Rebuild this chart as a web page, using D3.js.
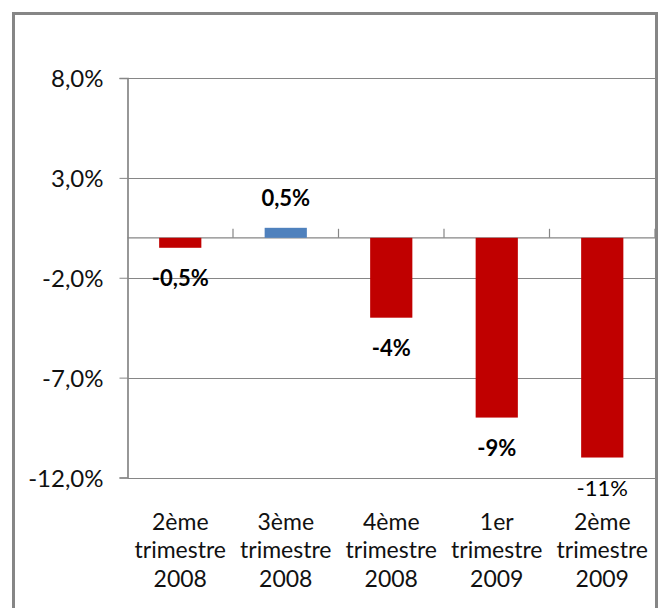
<!DOCTYPE html>
<html>
<head>
<meta charset="utf-8">
<script src="https://cdn.jsdelivr.net/npm/d3@7"></script>
<style>
  html, body { margin: 0; padding: 0; background: #fff; }
  svg { display: block; }
  text { font-family: Lato, "Open Sans", sans-serif; }
</style>
</head>
<body>
<svg id="chart" width="667" height="608"></svg>
<script>
const categories = [
  ["2ème", "trimestre", "2008"],
  ["3ème", "trimestre", "2008"],
  ["4ème", "trimestre", "2008"],
  ["1er", "trimestre", "2009"],
  ["2ème", "trimestre", "2009"]
];
const values = [-0.5, 0.5, -4, -9, -11];
const valueLabels = ["-0,5%", "0,5%", "-4%", "-9%", "-11%"];
const yTicks = [8, 3, -2, -7, -12];
const yTickLabels = ["8,0%", "3,0%", "-2,0%", "-7,0%", "-12,0%"];

(function () {
const svg = d3.select("#chart");
const pLeft = 127.5, pRight = 655, pTop = 78, pBottom = 477.5;
const grey = "#868686";

// outer border
svg.append("rect")
  .attr("x", 13.5).attr("y", 13.5)
  .attr("width", 643).attr("height", 640)
  .attr("fill", "none").attr("stroke", grey).attr("stroke-width", 3);

const keys = categories.map((c, i) => i);
const x = d3.scaleBand().domain(keys).range([pLeft, pRight]).paddingInner(0.6).paddingOuter(0.3);
const y = d3.scaleLinear().domain([-12, 8]).range([pBottom, pTop]);

// gridlines
svg.append("g").selectAll("line").data(yTicks).join("line")
  .attr("x1", pLeft).attr("x2", pRight)
  .attr("y1", d => Math.round(y(d)) + 0.5).attr("y2", d => Math.round(y(d)) + 0.5)
  .attr("stroke", grey).attr("stroke-width", 1);

// y axis
const yAxis = svg.append("g").attr("transform", `translate(${pLeft},0)`)
  .call(d3.axisLeft(y).tickValues(yTicks).tickSize(8).tickPadding(16)
    .tickFormat((d, i) => yTickLabels[i]));
yAxis.select(".domain").attr("stroke", grey).attr("stroke-width", 1.7);
yAxis.selectAll(".tick line").attr("stroke", grey).attr("stroke-width", 1);
yAxis.selectAll(".tick text")
  .attr("font-size", 24).attr("fill", "#111").attr("dy", "0.36em")
  .style("font-family", "Lato, sans-serif");

// zero line (category axis)
const y0 = y(0);
svg.append("line")
  .attr("x1", pLeft).attr("x2", pRight)
  .attr("y1", y0).attr("y2", y0)
  .attr("stroke", grey).attr("stroke-width", 1.2);

// category boundary ticks
const step = x.step();
svg.append("g").selectAll("line").data(keys).join("line")
  .attr("x1", i => pLeft + step * (i + 1)).attr("x2", i => pLeft + step * (i + 1))
  .attr("y1", y0).attr("y2", y0 - 9)
  .attr("stroke", grey).attr("stroke-width", 1.2);

// bars
svg.append("g").selectAll("rect").data(values).join("rect")
  .attr("x", (d, i) => x(i))
  .attr("width", x.bandwidth())
  .attr("y", d => y(Math.max(0, d)))
  .attr("height", d => Math.abs(y(d) - y(0)))
  .attr("fill", d => d >= 0 ? "#4F81BD" : "#C00000");

// data labels
svg.append("g").selectAll("text").data(values).join("text")
  .attr("x", (d, i) => x(i) + x.bandwidth() / 2)
  .attr("y", d => d >= 0 ? y(d) - 22 : y(d) + 38)
  .attr("text-anchor", "middle")
  .attr("font-size", 22)
  .attr("font-weight", (d, i) => i === values.length - 1 ? "normal" : "bold")
  .attr("fill", "#000")
  .text((d, i) => valueLabels[i]);

// category labels
const xAxis = svg.append("g").attr("transform", `translate(0,${pBottom})`)
  .call(d3.axisBottom(x).tickSize(0).tickFormat(() => ""));
xAxis.select(".domain").remove();
xAxis.selectAll(".tick").each(function(i) {
  const t = d3.select(this).append("text")
    .attr("text-anchor", "middle").attr("fill", "#111")
    .attr("font-size", 23);
  categories[i].forEach((line, k) => {
    t.append("tspan").attr("x", 0).attr("y", 52 + k * 28.6).text(line);
  });
});
})();
</script>
</body>
</html>
